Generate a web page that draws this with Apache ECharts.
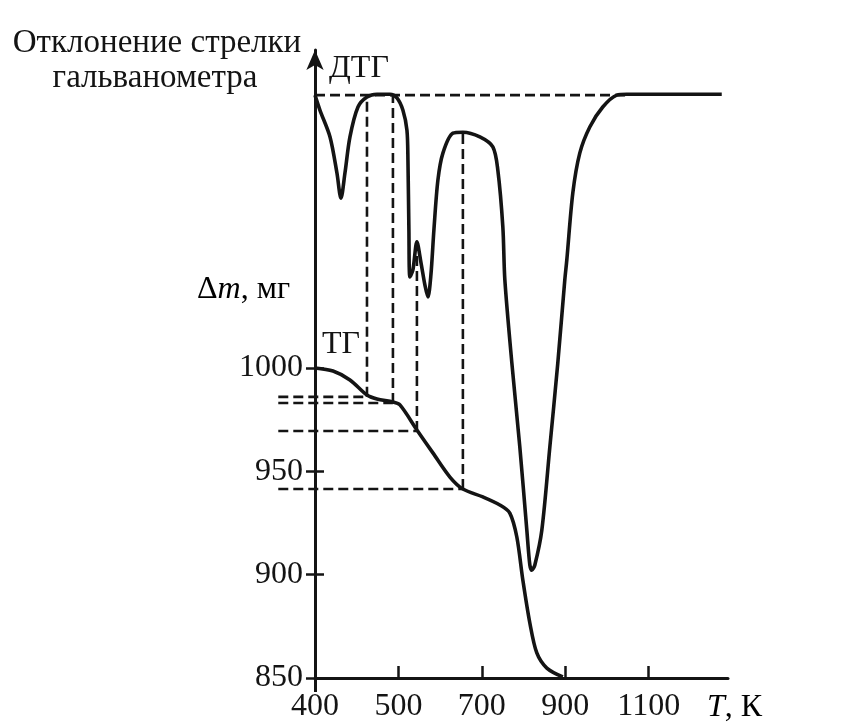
<!DOCTYPE html>
<html>
<head>
    <meta charset="utf-8">
    <title>ТГ / ДТГ</title>
    <script src="https://cdn.jsdelivr.net/npm/echarts@6/dist/echarts.min.js"></script>
    <style>
        html, body { margin: 0; padding: 0; background: #fff; }
    </style>
</head>
<body>
    <div id="main" style="width: 853px;height:724px;"></div>
    <script type="text/javascript">
        // подписи оси T (шкала неравномерная: 400, 500, затем шаг 200)
        var xTickT = [400, 500, 700, 900, 1100];
        var yTickMass = [850, 900, 950, 1000];

        // кривая ТГ: температура, К / масса, мг
        var tgT = [400, 421.6, 441.9, 462.3, 474.3, 493.4, 503.6, 544.3, 582.6, 623.4,
                   654.5, 702.4, 743.1, 767, 783.8, 798.2, 815, 831.7, 855.7, 894];
        var tgMass = [1000, 998.5, 994.2, 986.9, 985, 983.5, 982.1, 970, 958.9, 947.2,
                      941.4, 937.6, 933.7, 929.8, 918.2, 897.4, 876.6, 862.1, 854.8, 850.5];

        // кривая ДТГ: отклонение стрелки (усл. ед., 0 = нулевая линия)
        var dtgT = [400, 406, 418, 426.3, 431.1, 435.9, 441.9, 451.5, 462.3, 474.3,
                    489.8, 498.2, 510.8, 520.4, 522.8, 525.1, 527.5, 534.7, 544.3, 553.9,
                    563.5, 570.7, 577.8, 585, 594.6, 606.6, 630.6, 654.5, 695.2, 726.3,
                    738.3, 750.3, 755.1, 771.9, 791, 807.8, 815, 819.8, 827, 843.7,
                    862.9, 882, 898.8, 903.6, 918, 934.7, 958.7, 989.8, 1023.4, 1047.3, 1275];
        var dtgSignal = [0, -3.2, -8.8, -16.4, -21.7, -16.4, -8.8, -2.5, -0.4, 0.2,
                         0.2, -0.6, -3.2, -7.4, -13.7, -28.4, -38.3, -36.8, -30.9, -35.2,
                         -40, -42.5, -37.9, -28.4, -17.9, -12.2, -8, -7.8, -8.8, -10.9,
                         -15.8, -27.8, -38.9, -56.4, -74.1, -91.6, -98.9, -100, -98.9, -91.6,
                         -74.1, -56.4, -38.9, -34.7, -20.6, -12.2, -6.7, -2.5, 0, 0.2, 0.2];

        // вспомогательные пунктирные линии
        var guideT = [462.3, 493.4, 544.3, 654.5];
        var guideMass = [986, 983, 969.5, 941.4];
        var guideDtgTop = [0, 0, -31, -7.8];
        var guideLeftT = 356;
        var baselineT = [400, 1050];

        // пределы осей
        var Y0_MIN = 850, Y0_MAX = 1153.8;
        var Y1_MIN = -122.7, Y1_MAX = 9.5;
        var X_MAX = 4.95;

        var GRID_LEFT = 315, GRID_RIGHT = 125, GRID_TOP = 50, GRID_BOTTOM = 46;
        var GUIDE_LEFT = 278;
        var PX_PER_X = (853 - GRID_LEFT - GRID_RIGHT) / X_MAX;
        var GUIDE_X_MIN = -(GRID_LEFT - GUIDE_LEFT) / PX_PER_X;

        var FONT = '"Liberation Serif", "DejaVu Serif", serif';
        var INK = '#141414';

        // T -> позиция на неравномерной оси (номер деления)
        function tToX(t) {
            var i = 0;
            while (i < xTickT.length - 2 && t > xTickT[i + 1]) i++;
            return i + (t - xTickT[i]) / (xTickT[i + 1] - xTickT[i]);
        }
        function dtgToMass(v) {
            return Y0_MIN + (v - Y1_MIN) * (Y0_MAX - Y0_MIN) / (Y1_MAX - Y1_MIN);
        }

        var tgData = tgT.map(function (t, i) { return [tToX(t), tgMass[i]]; });
        var dtgData = dtgT.map(function (t, i) { return [tToX(t), dtgSignal[i]]; });

        var dashStyle = { color: INK, width: 2.6, type: [10, 5] };
        var series = [];
        guideT.forEach(function (t, i) {
            // горизонтальные — во второй сетке, которая заходит левее оси
            series.push({
                type: 'line', xAxisIndex: 2, yAxisIndex: 3, symbol: 'none', silent: true,
                lineStyle: dashStyle,
                data: [[Math.max(tToX(guideLeftT), GUIDE_X_MIN), guideMass[i]], [tToX(t), guideMass[i]]]
            });
            series.push({
                type: 'line', symbol: 'none', silent: true,
                lineStyle: dashStyle,
                data: [[tToX(t), guideMass[i]], [tToX(t), dtgToMass(guideDtgTop[i])]]
            });
        });
        series.push({
            type: 'line', yAxisIndex: 1, symbol: 'none', silent: true,
            lineStyle: dashStyle,
            data: baselineT.map(function (t) { return [tToX(t), 0]; })
        });
        series.push({
            name: 'ТГ', type: 'line', symbol: 'none', smooth: 0.3, z: 5,
            lineStyle: { color: INK, width: 3.6 },
            data: tgData
        });
        series.push({
            name: 'ДТГ', type: 'line', yAxisIndex: 1, symbol: 'none', smooth: 0.3, z: 5,
            lineStyle: { color: INK, width: 3.6 },
            data: dtgData
        });

        var myChart = echarts.init(document.getElementById('main'));
        var option = {
            animation: false,
            backgroundColor: '#fff',
            grid: [
                { left: GRID_LEFT, right: GRID_RIGHT, top: GRID_TOP, bottom: GRID_BOTTOM, containLabel: false, outerBoundsMode: 'none' },
                { left: GUIDE_LEFT, right: GRID_RIGHT, top: GRID_TOP, bottom: GRID_BOTTOM, containLabel: false, outerBoundsMode: 'none' }
            ],
            xAxis: [{
                type: 'value', min: 0, max: X_MAX,
                axisLine: { onZero: false, lineStyle: { color: INK, width: 3 } },
                axisTick: { customValues: [1, 2, 3, 4], inside: true, length: 12, lineStyle: { color: INK, width: 2.5 } },
                axisLabel: {
                    customValues: [0, 1, 2, 3, 4], margin: 13,
                    fontFamily: FONT, fontSize: 32, color: INK,
                    formatter: function (v) { return String(xTickT[Math.round(v)]); }
                },
                splitLine: { show: false }
            }, {
                type: 'value', min: 0, max: X_MAX, position: 'bottom',
                axisLine: { show: false, onZero: false },
                axisTick: { customValues: [0], length: 14, lineStyle: { color: INK, width: 3 } },
                axisLabel: { show: false },
                splitLine: { show: false }
            }, {
                type: 'value', gridIndex: 1, min: GUIDE_X_MIN, max: X_MAX, show: false,
                splitLine: { show: false }
            }],
            yAxis: [{
                type: 'value', min: Y0_MIN, max: Y0_MAX,
                axisLine: { show: true, onZero: false, symbol: ['none', 'arrow'], symbolSize: [13, 20], lineStyle: { color: INK, width: 3 } },
                axisTick: { show: true, customValues: yTickMass, length: 9, lineStyle: { color: INK, width: 2.5 } },
                axisLabel: {
                    customValues: yTickMass, margin: 12,
                    fontFamily: FONT, fontSize: 32, color: INK,
                    formatter: function (v) { return String(v); }
                },
                splitLine: { show: false }
            }, {
                type: 'value', min: Y1_MIN, max: Y1_MAX, show: false,
                splitLine: { show: false }
            }, {
                type: 'value', min: Y0_MIN, max: Y0_MAX, position: 'left',
                axisLine: { show: false, onZero: false },
                axisTick: { show: true, customValues: [900, 950, 1000], inside: true, length: 9, lineStyle: { color: INK, width: 2.5 } },
                axisLabel: { show: false },
                splitLine: { show: false }
            }, {
                type: 'value', gridIndex: 1, min: Y0_MIN, max: Y0_MAX, show: false,
                splitLine: { show: false }
            }],
            graphic: [
                { type: 'text', x: 157, y: 43, style: { text: 'Отклонение стрелки', font: '33px ' + FONT, fill: INK, textAlign: 'center', textVerticalAlign: 'middle' } },
                { type: 'text', x: 155, y: 78, style: { text: 'гальванометра', font: '33px ' + FONT, fill: INK, textAlign: 'center', textVerticalAlign: 'middle' } },
                { type: 'text', x: 329, y: 69, style: { text: 'ДТГ', font: '32px ' + FONT, fill: INK, textAlign: 'left', textVerticalAlign: 'middle' } },
                { type: 'text', x: 322, y: 345, style: { text: 'ТГ', font: '32px ' + FONT, fill: INK, textAlign: 'left', textVerticalAlign: 'middle' } },
                { type: 'text', x: 197, y: 290, style: {
                    text: '{n|Δ}{i|m}{n|, мг}', textAlign: 'left', textVerticalAlign: 'middle',
                    rich: {
                        n: { fontFamily: FONT, fontSize: 32, color: INK },
                        i: { fontFamily: FONT, fontSize: 32, fontStyle: 'italic', color: INK }
                    }
                } },
                { type: 'text', x: 707, y: 708, style: {
                    text: '{i|T}{n|, К}', textAlign: 'left', textVerticalAlign: 'middle',
                    rich: {
                        n: { fontFamily: FONT, fontSize: 32, color: INK },
                        i: { fontFamily: FONT, fontSize: 32, fontStyle: 'italic', color: INK }
                    }
                } }
            ],
            series: series
        };
        myChart.setOption(option);
    </script>
</body>
</html>
